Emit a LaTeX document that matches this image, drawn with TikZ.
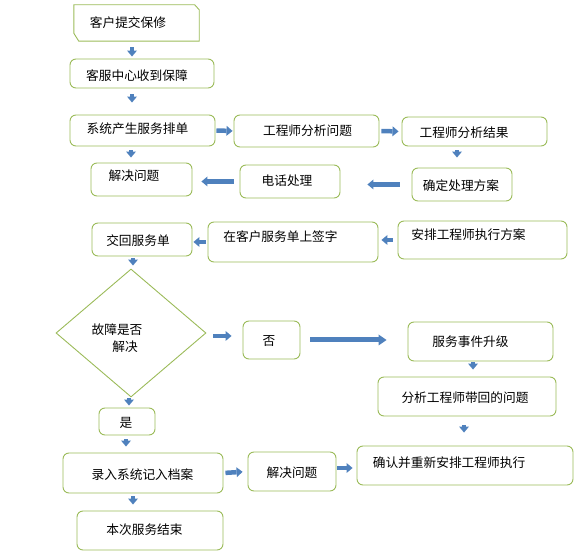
\documentclass[tikz,border=0pt]{standalone}
\usepackage{fontspec}
\setmainfont{Noto Sans CJK SC}
\usetikzlibrary{shapes.geometric,arrows.meta}
\definecolor{boxgreen}{HTML}{9BBB59}
\definecolor{arrowblue}{HTML}{4F81BD}
\begin{document}
\begin{tikzpicture}[x=1pt,y=-1pt,
  box/.style={draw=boxgreen, line width=0.9pt, rounded corners=6pt, inner sep=0pt, fill=white},
  lbl/.style={font=\fontsize{12.7}{14}\selectfont, inner sep=0pt, text=black},
  barrow/.style={draw=arrowblue, line width=4.5pt, -{Triangle[width=10pt,length=6pt,line width=0pt]}},
  bigarrow/.style={draw=arrowblue, line width=5pt, -{Triangle[width=11pt,length=8pt,line width=0pt]}}]
\useasboundingbox (0,0) rectangle (582,553);
% boxes
\node[inner sep=0pt, minimum width=125pt, minimum height=36pt] (n1) at (136.5,23) {};
\draw[boxgreen, line width=0.9pt] (n1.north west) -- ([xshift=-4.5pt]n1.north east) -- ([yshift=-5pt]n1.north east) -- (n1.south east) -- ([xshift=5pt]n1.south west) -- ([yshift=8pt]n1.south west) -- cycle;
\node[box, minimum width=144pt, minimum height=29pt] (n2) at (142,73.5) {};
\node[box, minimum width=145pt, minimum height=31pt] (n3) at (142.5,130.5) {};
\node[box, minimum width=145pt, minimum height=32pt] (n4) at (306.5,131) {};
\node[box, minimum width=145pt, minimum height=29pt] (n5) at (474.5,131.5) {};
\node[box, minimum width=100pt, minimum height=33pt] (n6) at (462,184.5) {};
\node[box, minimum width=100pt, minimum height=33pt] (n7) at (290,181.5) {};
\node[box, minimum width=101pt, minimum height=33pt] (n8) at (141.5,179.5) {};
\node[box, minimum width=100pt, minimum height=33pt] (n9) at (142,239.5) {};
\node[box, minimum width=170pt, minimum height=40pt] (n10) at (293,242) {};
\node[box, minimum width=169pt, minimum height=38pt] (n11) at (482.5,240) {};
\node[draw=boxgreen, line width=0.9pt, diamond, inner sep=0pt, minimum width=150pt, minimum height=128pt] (d) at (131,333) {};
\node[box, minimum width=57pt, minimum height=38pt] (n12) at (271.5,340) {};
\node[box, minimum width=145pt, minimum height=39pt] (n13) at (480.5,341.5) {};
\node[box, minimum width=178pt, minimum height=39pt] (n14) at (467,396.5) {};
\node[box, minimum width=56pt, minimum height=27pt] (n15) at (127,421.5) {};
\node[box, minimum width=160pt, minimum height=40pt] (n16) at (143,473) {};
\node[box, minimum width=88pt, minimum height=39pt] (n17) at (292,471.5) {};
\node[box, minimum width=216pt, minimum height=39pt] (n18) at (465,465.5) {};
\node[box, minimum width=146pt, minimum height=39pt] (n19) at (150,530.5) {};
% texts
\node[lbl] (t1) at (128,23) {客户提交保修};
\node[lbl] (t2) at (137,76) {客服中心收到保障};
\node[lbl] (t3) at (137.5,129) {系统产生服务排单};
\node[lbl] (t4) at (307.5,131) {工程师分析问题};
\node[lbl] (t5) at (464,133) {工程师分析结果};
\node[lbl] (t6) at (461,186) {确定处理方案};
\node[lbl] (t7) at (287,181) {电话处理};
\node[lbl] (t8) at (134,176) {解决问题};
\node[lbl] (t9) at (138,241) {交回服务单};
\node[lbl] (t10) at (280.5,237) {在客户服务单上签字};
\node[lbl] (t11) at (468.5,235) {安排工程师执行方案};
\node[lbl] (td1) at (117,330) {故障是否};
\node[lbl] (td2) at (125,347) {解决};
\node[lbl] (t12) at (269,341) {否};
\node[lbl] (t13) at (470.5,342) {服务事件升级};
\node[lbl] (t14) at (465,398) {分析工程师带回的问题};
\node[lbl] (t15) at (126,423) {是};
\node[lbl] (t16) at (142.5,475) {录入系统记入档案};
\node[lbl] (t17) at (292,473) {解决问题};
\node[lbl] (t18) at (449,463) {确认并重新安排工程师执行};
\node[lbl] (t19) at (144.5,530) {本次服务结束};
% arrows
\draw[barrow, shorten <=6pt, shorten >=2pt] ([xshift=-4.5pt]n1.south) -- ([xshift=-10pt]n2.north);
\draw[barrow, shorten <=6pt, shorten >=12pt] ([xshift=-10pt]n2.south) -- ([xshift=-10.5pt]n3.north);
\draw[barrow, shorten <=4pt, shorten >=5pt] ([xshift=-11.5pt]n3.south) -- ([xshift=-10.5pt]n8.north);
\draw[barrow, shorten <=1pt, shorten >=1pt] (n3.east) -- (n4.west);
\draw[barrow, shorten <=2pt, shorten >=3pt] (n4.east) -- (n5.west);
\draw[barrow, shorten <=4pt, shorten >=10pt] ([xshift=-17.5pt]n5.south) -- ([xshift=-5pt]n6.north);
\draw[barrow, shorten <=12pt, shorten >=27pt] (n6.west) -- (n6.west -| n7.east);
\draw[barrow, shorten <=6pt, shorten >=9pt] (n7.west) -- (n7.west -| n8.east);
\draw[barrow, shorten <=5pt, shorten >=3pt] (n11.west) -- (n11.west -| n10.east);
\draw[barrow, shorten <=2pt, shorten >=1pt] (n10.west) -- (n10.west -| n9.east);
\draw[barrow, shorten <=2pt, shorten >=3pt] ([xshift=-9pt]n9.south) -- ([xshift=2pt]d.north);
\draw[barrow, shorten <=7pt, shorten >=11pt] ([yshift=-3pt]d.east) -- ([yshift=4pt]n12.west);
\draw[bigarrow, shorten <=10pt, shorten >=21pt] (n12.east) -- (n12.east -| n13.west);
\draw[barrow, shorten <=1pt, shorten >=7pt] ([xshift=-7.5pt]n13.south) -- ([xshift=6pt]n14.north);
\draw[barrow, shorten <=9pt, shorten >=13pt] ([xshift=-3pt]n14.south) -- ([xshift=-1pt]n18.north);
\draw[barrow, shorten <=1pt, shorten >=2pt] ([xshift=-2pt]d.south) -- ([xshift=2pt]n15.north);
\draw[barrow, shorten <=4pt, shorten >=6pt] ([xshift=-1pt]n15.south) -- ([xshift=-17pt]n16.north);
\draw[barrow, shorten <=2pt, shorten >=5pt] (n16.east) -- (n17.west);
\draw[barrow, shorten <=1pt, shorten >=4pt] ([yshift=3.5pt]n17.east) -- ([yshift=-2.5pt]n18.west);
\draw[barrow, shorten <=3pt, shorten >=6pt] ([xshift=-10pt]n16.south) -- ([xshift=-17pt]n19.north);
\end{tikzpicture}
\end{document}
